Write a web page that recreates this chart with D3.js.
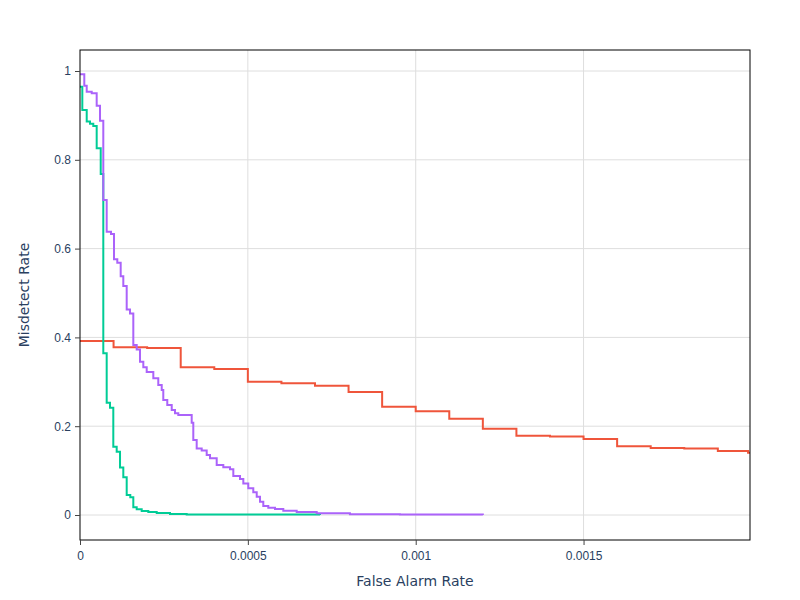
<!DOCTYPE html>
<html lang="en">
<head>
  <meta charset="UTF-8" />
  <title>DET curves</title>
  <script src="https://d3js.org/d3.v7.min.js"></script>
  <style>
    body {
      margin: 0;
      padding: 0;
      background: #fff;
    }
    svg {
      font-family: "DejaVu Sans", verdana, arial, sans-serif;
    }
    .grid line {
      stroke: #dedede;
      stroke-width: 1px;
    }
    .axis text {
      fill: #2a3f5f;
      font-size: 12px;
    }
    .axis line {
      stroke: #444;
    }
    .axis path {
      display: none;
    }
    .curve {
      fill: none;
      stroke-width: 2px;
    }
    .titulo {
      fill: #2a3f5f;
      font-size: 14px;
    }
  </style>
</head>
<body>
  <svg width="800" height="600"></svg>

  <script>
    // series: x = false alarm rate where the step happens, y = misdetect rate after it
    const redX = [0, 0.0001, 0.0002, 0.0003, 0.0004, 0.0005, 0.0006, 0.0007, 0.0008, 0.0009,
      0.001, 0.0011, 0.0012, 0.0013, 0.0014, 0.0015, 0.0016, 0.0017, 0.0018, 0.0019, 0.00199, 0.0021];
    const redY = [0.392, 0.378, 0.376, 0.333, 0.329, 0.300, 0.297, 0.291, 0.277, 0.244,
      0.2335, 0.217, 0.194, 0.1786, 0.177, 0.171, 0.1547, 0.151, 0.150, 0.144, 0.140, 0.140];

    const purpleX = [0, 0.0000128, 0.00002, 0.0000349, 0.0000497, 0.0000596, 0.0000694, 0.0000795,
      0.0000923, 0.0001013, 0.0001111, 0.0001212, 0.000129, 0.0001391, 0.0001489, 0.0001588,
      0.0001689, 0.0001787, 0.0001886, 0.0001987, 0.0002184, 0.0002332, 0.0002434, 0.0002481,
      0.00026, 0.0002732, 0.000283, 0.0002928, 0.0003327, 0.0003375, 0.0003476, 0.0003625,
      0.0003774, 0.0003873, 0.0004072, 0.0004269, 0.0004468, 0.0004567, 0.0004766, 0.0004865,
      0.0005013, 0.0005162, 0.0005264, 0.0005362, 0.000546, 0.0005609, 0.0005809, 0.0006056,
      0.0006455, 0.0007051, 0.000804, 0.000953, 0.0012];
    const purpleY = [0.9926, 0.967, 0.953, 0.950, 0.922, 0.888, 0.7095, 0.638,
      0.633, 0.576, 0.568, 0.538, 0.516, 0.463, 0.454, 0.383,
      0.373, 0.345, 0.333, 0.322, 0.308, 0.293, 0.2815, 0.259,
      0.248, 0.2365, 0.229, 0.225, 0.208, 0.169, 0.150, 0.145,
      0.135, 0.128, 0.1126, 0.1075, 0.103, 0.088, 0.081, 0.071,
      0.060, 0.051, 0.041, 0.030, 0.020, 0.0165, 0.0135, 0.0098,
      0.0068, 0.0038, 0.0018, 0.0009, 0];

    const greenX = [0, 0.0000069, 0.00002, 0.0000298, 0.0000396, 0.0000497, 0.0000617, 0.0000694,
      0.0000795, 0.0000894, 0.0000992, 0.0001093, 0.0001192, 0.000129, 0.0001391, 0.0001498,
      0.0001588, 0.0001689, 0.0001838, 0.0002035, 0.0002285, 0.0002681, 0.0003178, 0.000715];
    const greenY = [0.9647, 0.912, 0.886, 0.881, 0.876, 0.826, 0.768, 0.3645,
      0.253, 0.2417, 0.154, 0.1426, 0.107, 0.085, 0.045, 0.040,
      0.0173, 0.0128, 0.009, 0.0068, 0.0045, 0.0023, 0.001, 0];

    const xTicks = [0, 0.0005, 0.001, 0.0015];
    const xTickLabels = ["0", "0.0005", "0.001", "0.0015"];
    const yTicks = [0, 0.2, 0.4, 0.6, 0.8, 1];
    const yTickLabels = ["0", "0.2", "0.4", "0.6", "0.8", "1"];

    const series = [
      { nome: "red", cor: "#EF553B", x: redX, y: redY },
      { nome: "green", cor: "#00CC96", x: greenX, y: greenY },
      { nome: "purple", cor: "#AB63FA", x: purpleX, y: purpleY },
    ];

    const svg = d3.select("svg");
    const margem = { top: 50, right: 50, bottom: 60, left: 80 };
    const largura = 800 - margem.left - margem.right;
    const altura = 600 - margem.top - margem.bottom;

    const x = d3.scaleLinear().domain([0, 0.0019958]).range([0, largura]);
    const y = d3.scaleLinear().domain([-0.0563, 1.0473]).range([altura, 0]);

    const g = svg.append("g").attr("transform", `translate(${margem.left},${margem.top})`);

    g.append("clipPath")
      .attr("id", "recorte")
      .append("rect")
      .attr("width", largura)
      .attr("height", altura);

    // grade
    g.append("g")
      .attr("class", "grid")
      .selectAll("line")
      .data(xTicks.filter((d) => d > 0))
      .enter()
      .append("line")
      .attr("x1", (d) => x(d))
      .attr("x2", (d) => x(d))
      .attr("y1", 0)
      .attr("y2", altura);

    g.append("g")
      .attr("class", "grid")
      .selectAll("line")
      .data(yTicks)
      .enter()
      .append("line")
      .attr("x1", 0)
      .attr("x2", largura)
      .attr("y1", (d) => y(d))
      .attr("y2", (d) => y(d));

    // curvas
    const linha = d3
      .line()
      .x((d) => x(d[0]))
      .y((d) => y(d[1]))
      .curve(d3.curveStepAfter);

    g.append("g")
      .attr("clip-path", "url(#recorte)")
      .selectAll(".curve")
      .data(series)
      .enter()
      .append("path")
      .attr("class", "curve")
      .attr("stroke", (d) => d.cor)
      .attr("d", (d) => linha(d.x.map((v, i) => [v, d.y[i]])));

    // moldura
    g.append("rect")
      .attr("width", largura)
      .attr("height", altura)
      .attr("fill", "none")
      .attr("stroke", "#000")
      .attr("stroke-width", 1);

    // eixos
    g.append("g")
      .attr("class", "axis")
      .attr("transform", `translate(0,${altura})`)
      .call(
        d3.axisBottom(x)
          .tickValues(xTicks)
          .tickFormat((d, i) => xTickLabels[i])
          .tickSize(5)
          .tickPadding(6)
      );

    g.append("g")
      .attr("class", "axis")
      .call(
        d3.axisLeft(y)
          .tickValues(yTicks)
          .tickFormat((d, i) => yTickLabels[i])
          .tickSize(5)
          .tickPadding(4)
      );

    svg.selectAll(".axis text").attr("font-family", null).attr("font-size", null);

    svg.append("text")
      .attr("class", "titulo")
      .attr("x", margem.left + largura / 2)
      .attr("y", 586)
      .attr("text-anchor", "middle")
      .text("False Alarm Rate");

    svg.append("text")
      .attr("class", "titulo")
      .attr("transform", `translate(28.5,${margem.top + altura / 2}) rotate(-90)`)
      .attr("text-anchor", "middle")
      .text("Misdetect Rate");
  </script>
</body>
</html>
